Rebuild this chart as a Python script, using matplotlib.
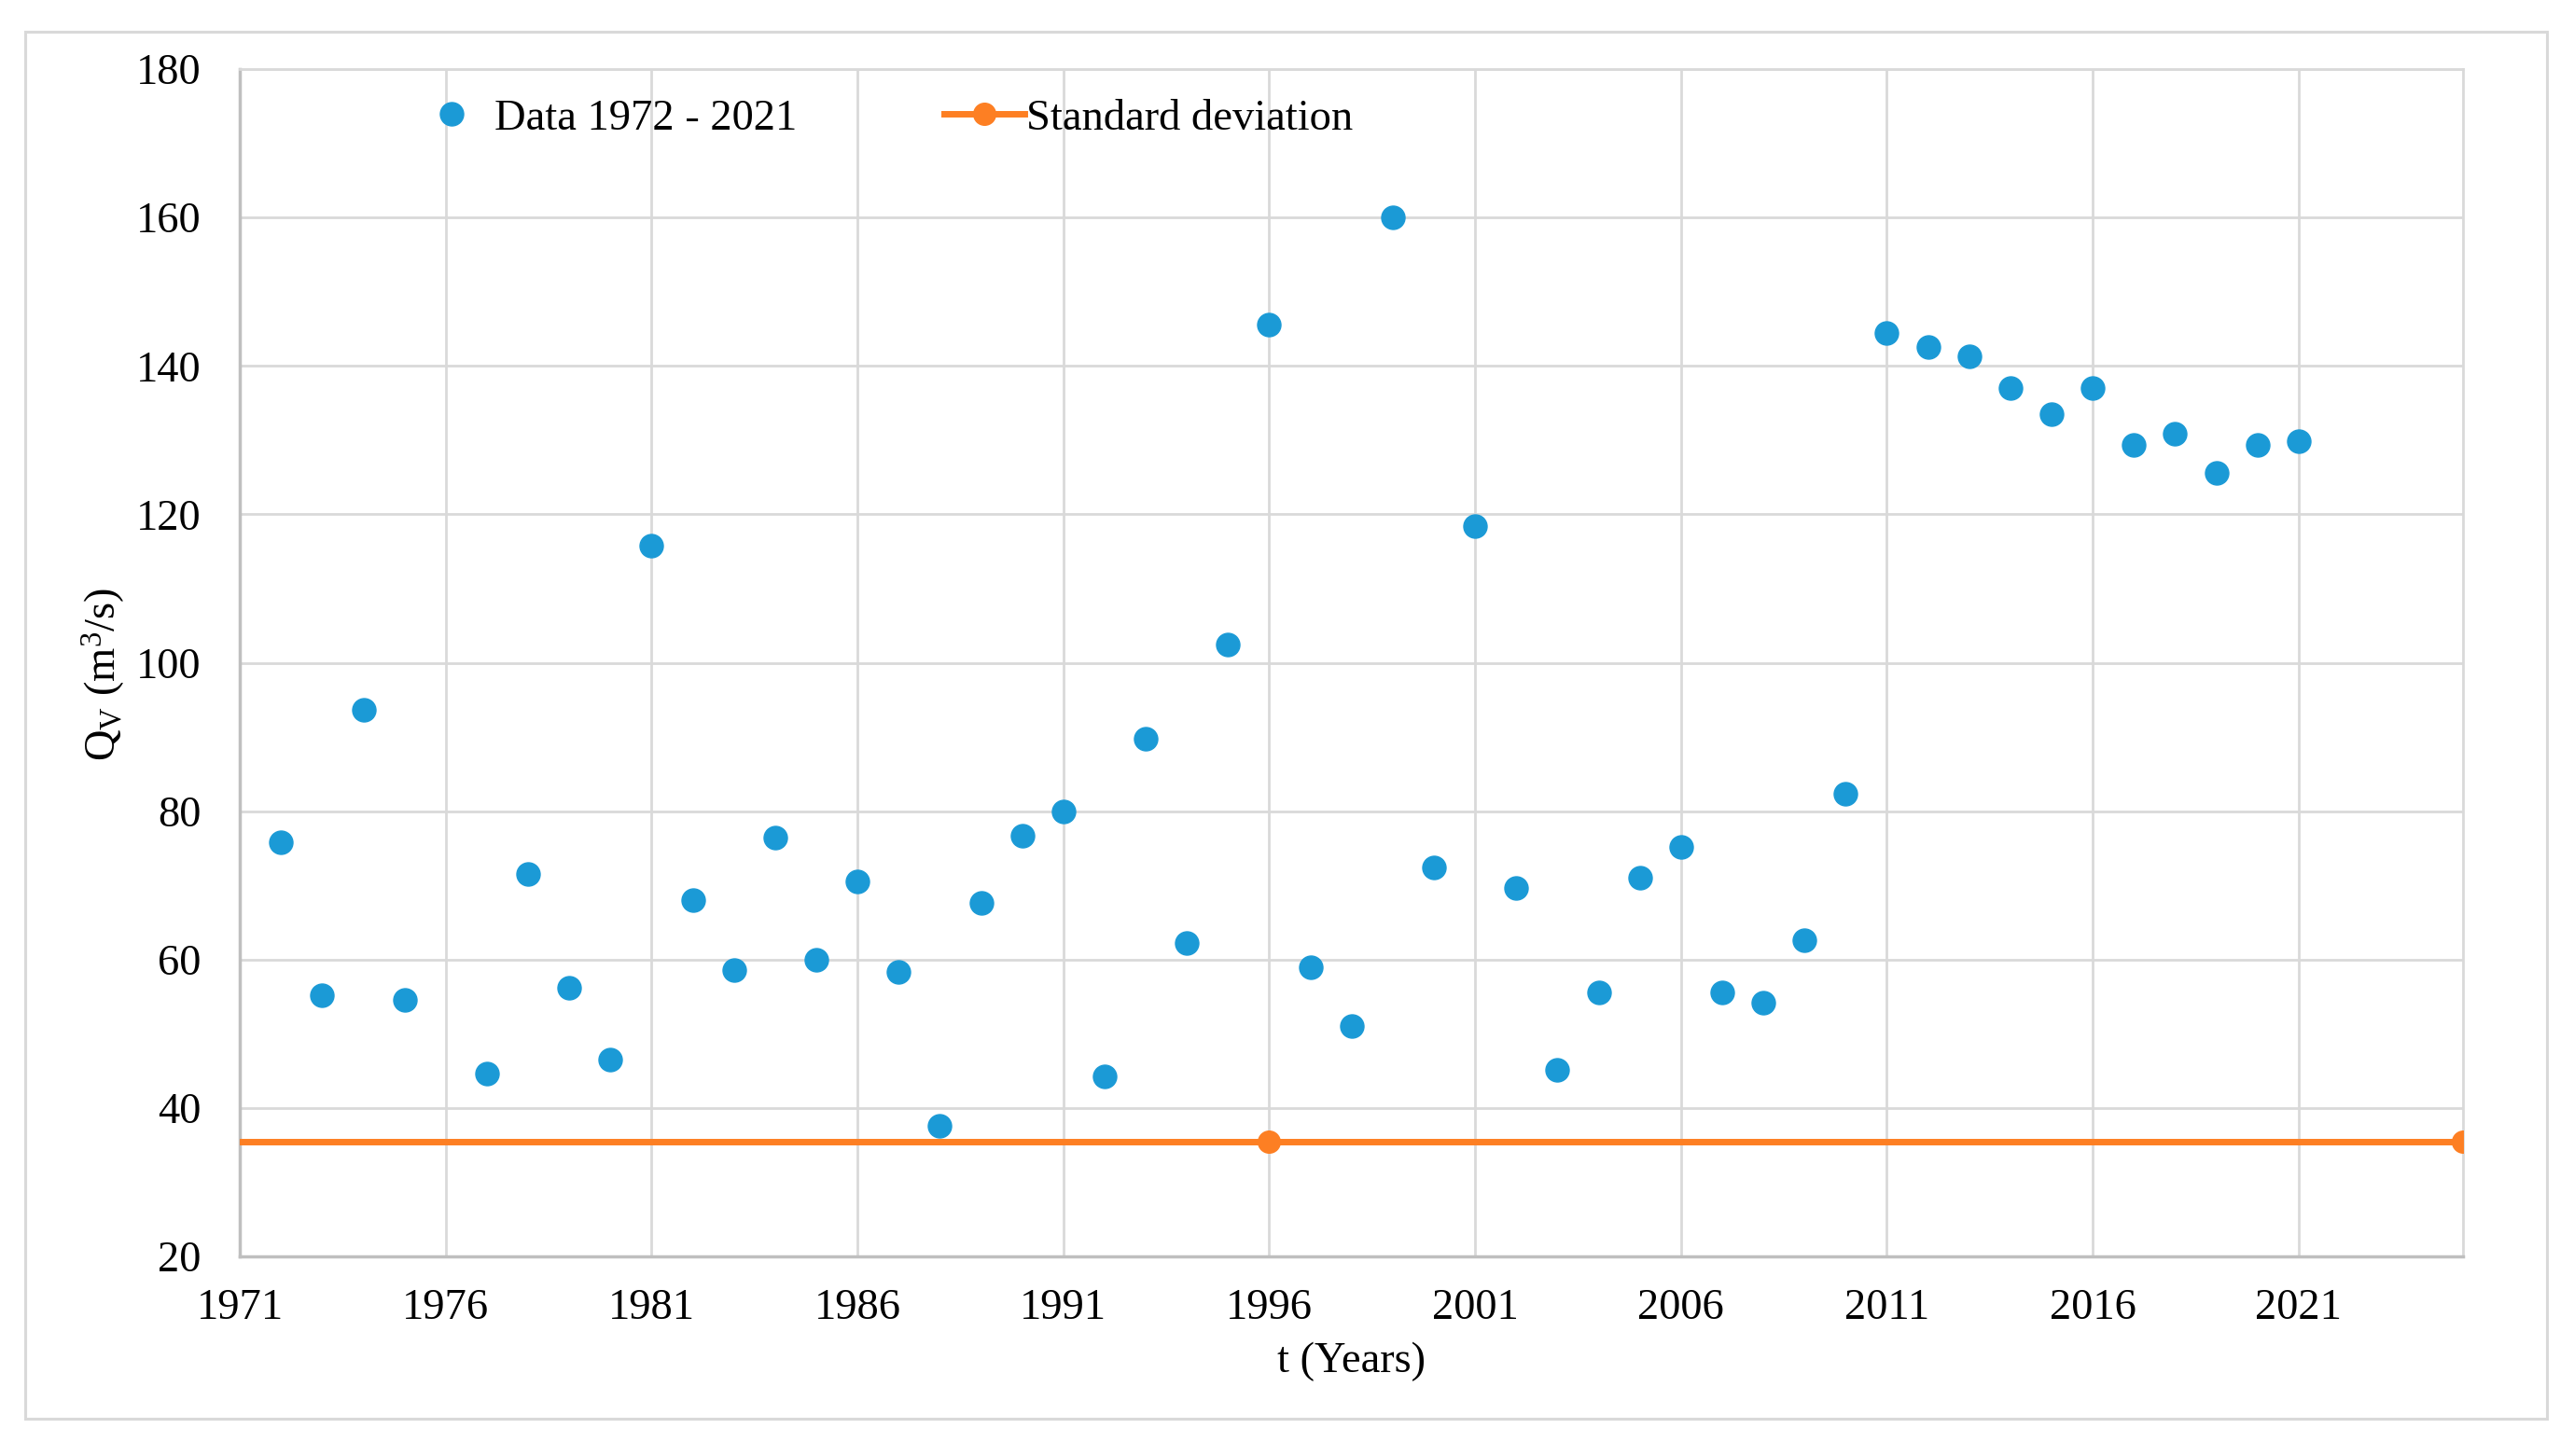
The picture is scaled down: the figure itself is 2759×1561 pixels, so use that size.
import numpy as np
import matplotlib
matplotlib.use("Agg")
import matplotlib.pyplot as plt
from matplotlib.patches import Rectangle

# Annual discharge values (1976 has no point)
years = list(range(1972, 2022))
discharge = [
    75.8, 55.2, 93.7, 54.6, np.nan, 44.6, 71.5, 56.2, 46.5, 115.8,
    68.0, 58.6, 76.4, 60.0, 70.5, 58.3, 37.6, 67.6, 76.7, 80.0,
    44.3, 89.8, 62.3, 102.4, 145.6, 59.0, 51.1, 160.0, 72.4, 118.4,
    69.6, 45.1, 55.6, 71.0, 75.2, 55.6, 54.2, 62.6, 82.3, 144.4,
    142.6, 141.3, 137.0, 133.5, 137.0, 129.3, 130.8, 125.6, 129.4, 129.9,
]

# Standard deviation series (flat line)
std_years = [1967, 1996, 2025]
std_values = [35.5, 35.5, 35.5]

x_ticks = list(range(1971, 2022, 5))
y_ticks = list(range(20, 181, 20))

BLUE = "#1b9ad6"
ORANGE = "#fd7f23"
GRID = "#d9d9d9"
FS = 33.5


def main():
    plt.rcParams["font.family"] = ["Liberation Serif", "DejaVu Serif"]
    plt.rcParams["mathtext.fontset"] = "custom"
    plt.rcParams["mathtext.rm"] = "Liberation Serif"
    plt.rcParams["mathtext.it"] = "Liberation Serif:italic"

    fig = plt.figure(figsize=(27.59, 15.61), dpi=100)
    ax = fig.add_axes([0.0932, 0.137, 0.957 - 0.0932, 0.9526 - 0.137])

    # Outer chart border
    fig.patches.append(Rectangle((27 / 2759, 1 - 1521 / 1561),
                                 (2730 - 27) / 2759, (1521 - 34) / 1561,
                                 transform=fig.transFigure, fill=False,
                                 edgecolor=GRID, linewidth=2.2))

    ax.plot(years, discharge, linestyle="none", marker="o", markersize=18,
            color=BLUE, label="Data 1972 - 2021", zorder=3)
    ax.plot(std_years, std_values, color=ORANGE, linewidth=5, marker="o",
            markersize=17, label="Standard deviation", zorder=3)

    ax.set_xlim(1971, 2025)
    ax.set_ylim(20, 180)
    ax.set_xticks(x_ticks)
    ax.set_yticks(y_ticks)
    ax.grid(True, color=GRID, linewidth=2)
    ax.set_axisbelow(True)
    ax.tick_params(axis="both", length=0, labelsize=FS)
    ax.tick_params(axis="x", pad=25)
    ax.tick_params(axis="y", pad=30)

    for side in ["top", "right"]:
        ax.spines[side].set_color(GRID)
        ax.spines[side].set_linewidth(2)
    for side in ["left", "bottom"]:
        ax.spines[side].set_color("#bfbfbf")
        ax.spines[side].set_linewidth(2.5)

    ax.set_xlabel("t (Years)", fontsize=FS, va="top")
    ax.xaxis.set_label_coords(0.5, -0.072)
    ax.set_ylabel(r"Q$_\mathrm{V}$ (m$^3$/s)", fontsize=FS)
    ax.yaxis.set_label_coords(-0.051, 0.49)

    ax.legend(loc="center", bbox_to_anchor=(0.289, 0.958), ncol=2,
              frameon=False, fontsize=FS, handlelength=1.85,
              handletextpad=0.05, columnspacing=3.4)

    fig.savefig("out.png", dpi=100)


if __name__ == "__main__":
    main()
